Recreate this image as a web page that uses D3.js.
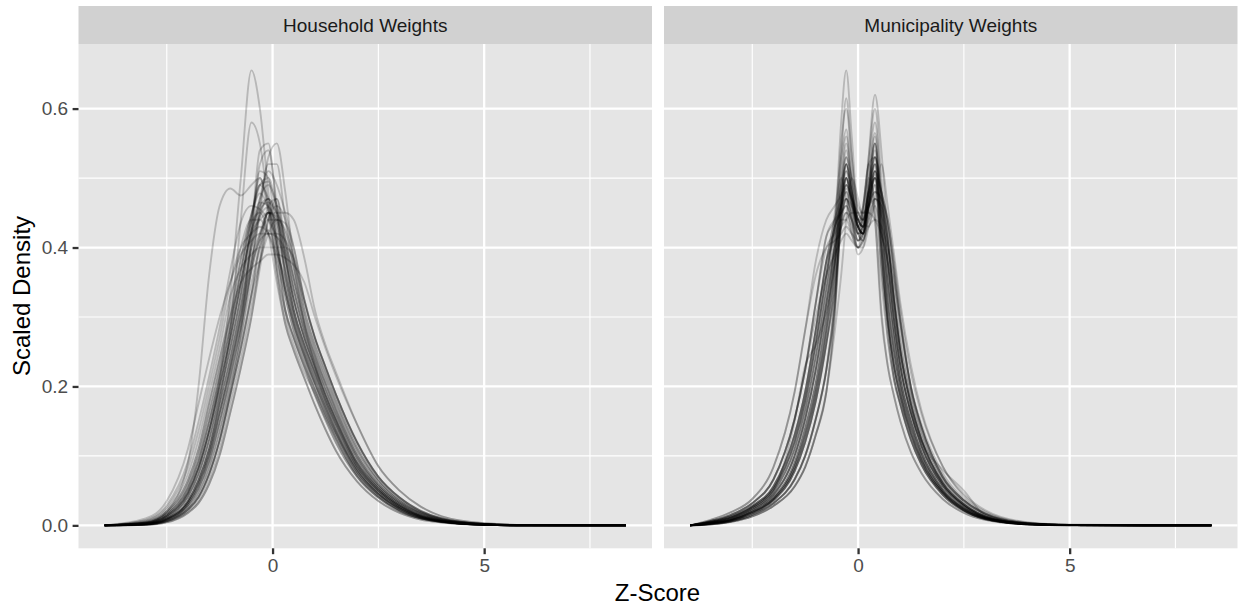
<!DOCTYPE html>
<html>
<head>
<meta charset="utf-8">
<script src="https://cdn.jsdelivr.net/npm/d3@7"></script>
<style>
  html, body { margin: 0; padding: 0; background: #ffffff; }
  svg { display: block; font-family: "Liberation Sans", Arial, Helvetica, sans-serif; }
</style>
</head>
<body>
<svg id="chart" width="1238" height="607"></svg>
<script>
// ---------------- DATA ----------------
const panelTitles = ["Household Weights", "Municipality Weights"];
const xTickValues = [0, 5];
const xTickLabels = ["0", "5"];
const yTickValues = [0, 0.2, 0.4, 0.6];
const yTickLabels = ["0.0", "0.2", "0.4", "0.6"];
const xTitle = "Z-Score";
const yTitle = "Scaled Density";

// z-score grid of the household density curves
const householdX = [-3.97, -3, -2.5, -2, -1.75, -1.5, -1.25, -1, -0.75, -0.5, -0.3, -0.1, 0.1, 0.3, 0.5, 0.75, 1, 1.25, 1.5, 2, 2.5, 3, 3.5, 4, 5, 6, 8.35];
const householdCurves = [
  [0, 0.002, 0.01, 0.035, 0.065, 0.11, 0.175, 0.24, 0.315, 0.40, 0.445, 0.458, 0.43, 0.37, 0.31, 0.26, 0.22, 0.18, 0.145, 0.085, 0.05, 0.027, 0.013, 0.006, 0.001, 0, 0],
  [0, 0.0032, 0.014, 0.047, 0.083, 0.136, 0.201, 0.27, 0.349, 0.424, 0.46, 0.47, 0.45, 0.41, 0.355, 0.29, 0.244, 0.204, 0.166, 0.101, 0.059, 0.033, 0.017, 0.0078, 0.0016, 0.0001, 0],
  [0, 0.0016, 0.008, 0.029, 0.053, 0.092, 0.149, 0.214, 0.285, 0.366, 0.415, 0.45, 0.435, 0.37, 0.31, 0.26, 0.22, 0.18, 0.145, 0.085, 0.05, 0.027, 0.013, 0.006, 0.001, 0, 0],
  [0, 0.0044, 0.018, 0.059, 0.101, 0.162, 0.227, 0.30, 0.383, 0.448, 0.478, 0.455, 0.40, 0.34, 0.29, 0.244, 0.204, 0.166, 0.132, 0.077, 0.045, 0.024, 0.0114, 0.0054, 0.0009, 0, 0],
  [0, 0.0012, 0.006, 0.023, 0.041, 0.074, 0.123, 0.188, 0.255, 0.332, 0.38, 0.42, 0.44, 0.435, 0.40, 0.325, 0.27, 0.228, 0.188, 0.119, 0.07, 0.04, 0.021, 0.01, 0.0022, 0.0003, 0],
  [0, 0.0026, 0.012, 0.041, 0.074, 0.123, 0.188, 0.255, 0.332, 0.44, 0.50, 0.45, 0.36, 0.29, 0.252, 0.212, 0.173, 0.138, 0.107, 0.063, 0.035, 0.018, 0.0085, 0.0042, 0.0007, 0, 0],
  [0, 0.008, 0.029, 0.092, 0.149, 0.214, 0.285, 0.366, 0.436, 0.46, 0.455, 0.44, 0.415, 0.385, 0.325, 0.27, 0.228, 0.188, 0.152, 0.09, 0.053, 0.029, 0.014, 0.0066, 0.0012, 0, 0],
  [0, 0.0009, 0.0044, 0.018, 0.032, 0.059, 0.101, 0.162, 0.227, 0.30, 0.37, 0.44, 0.47, 0.41, 0.355, 0.29, 0.244, 0.204, 0.166, 0.101, 0.059, 0.033, 0.017, 0.0078, 0.0016, 0.0001, 0],
  [0, 0.0032, 0.014, 0.047, 0.083, 0.136, 0.201, 0.27, 0.349, 0.42, 0.44, 0.45, 0.45, 0.45, 0.44, 0.385, 0.31, 0.26, 0.22, 0.145, 0.085, 0.05, 0.027, 0.013, 0.003, 0.0005, 0],
  [0, 0.0018, 0.009, 0.032, 0.059, 0.101, 0.162, 0.227, 0.30, 0.375, 0.41, 0.42, 0.415, 0.395, 0.34, 0.28, 0.236, 0.196, 0.159, 0.096, 0.056, 0.031, 0.015, 0.0072, 0.0014, 0.0001, 0],
  [0, 0.003, 0.013, 0.045, 0.082, 0.135, 0.21, 0.33, 0.50, 0.655, 0.60, 0.48, 0.37, 0.30, 0.26, 0.22, 0.19, 0.155, 0.125, 0.07, 0.04, 0.02, 0.01, 0.005, 0.001, 0, 0],
  [0, 0.002, 0.01, 0.035, 0.065, 0.11, 0.18, 0.28, 0.44, 0.58, 0.55, 0.46, 0.37, 0.31, 0.27, 0.23, 0.195, 0.16, 0.13, 0.075, 0.043, 0.022, 0.01, 0.005, 0.001, 0, 0],
  [0, 0.001, 0.006, 0.022, 0.04, 0.073, 0.122, 0.19, 0.27, 0.37, 0.45, 0.53, 0.55, 0.48, 0.38, 0.29, 0.23, 0.185, 0.15, 0.088, 0.05, 0.027, 0.013, 0.006, 0.001, 0, 0],
  [0, 0.003, 0.02, 0.09, 0.2, 0.36, 0.46, 0.485, 0.475, 0.49, 0.50, 0.46, 0.40, 0.34, 0.29, 0.245, 0.205, 0.17, 0.135, 0.08, 0.045, 0.024, 0.011, 0.005, 0.001, 0, 0],
  [0, 0.0014, 0.007, 0.026, 0.047, 0.083, 0.136, 0.201, 0.28, 0.42, 0.54, 0.55, 0.45, 0.355, 0.30, 0.252, 0.212, 0.173, 0.138, 0.081, 0.047, 0.025, 0.012, 0.0057, 0.001, 0, 0],
  [0, 0.0016, 0.008, 0.029, 0.053, 0.092, 0.149, 0.214, 0.285, 0.375, 0.46, 0.52, 0.52, 0.44, 0.37, 0.30, 0.252, 0.212, 0.173, 0.107, 0.063, 0.035, 0.018, 0.0085, 0.0018, 0.0002, 0],
  [0, 0.0038, 0.016, 0.053, 0.092, 0.149, 0.214, 0.285, 0.366, 0.445, 0.49, 0.495, 0.45, 0.385, 0.325, 0.27, 0.228, 0.188, 0.152, 0.09, 0.053, 0.029, 0.014, 0.0066, 0.0012, 0, 0],
  [0, 0.002, 0.01, 0.035, 0.065, 0.11, 0.175, 0.24, 0.315, 0.40, 0.45, 0.47, 0.40, 0.31, 0.27, 0.228, 0.188, 0.152, 0.119, 0.07, 0.04, 0.021, 0.01, 0.0048, 0.0008, 0, 0],
  [0, 0.005, 0.02, 0.065, 0.11, 0.175, 0.24, 0.315, 0.40, 0.44, 0.44, 0.42, 0.38, 0.33, 0.28, 0.236, 0.196, 0.159, 0.125, 0.073, 0.042, 0.022, 0.0105, 0.0051, 0.0008, 0, 0],
  [0, 0.001, 0.005, 0.02, 0.035, 0.065, 0.11, 0.175, 0.24, 0.315, 0.38, 0.44, 0.46, 0.44, 0.385, 0.31, 0.26, 0.22, 0.18, 0.112, 0.066, 0.037, 0.019, 0.009, 0.002, 0.0003, 0],
  [0, 0.0026, 0.012, 0.041, 0.074, 0.123, 0.188, 0.255, 0.332, 0.412, 0.47, 0.49, 0.46, 0.41, 0.355, 0.29, 0.244, 0.204, 0.166, 0.101, 0.059, 0.033, 0.017, 0.0078, 0.0016, 0.0001, 0],
  [0, 0.006, 0.023, 0.074, 0.123, 0.188, 0.255, 0.33, 0.37, 0.39, 0.40, 0.40, 0.40, 0.40, 0.385, 0.325, 0.27, 0.228, 0.188, 0.119, 0.07, 0.04, 0.021, 0.01, 0.0022, 0.0003, 0],
  [0, 0.007, 0.026, 0.083, 0.136, 0.201, 0.27, 0.349, 0.40, 0.42, 0.43, 0.42, 0.39, 0.355, 0.30, 0.252, 0.212, 0.173, 0.138, 0.081, 0.047, 0.025, 0.012, 0.0057, 0.001, 0, 0],
  [0, 0.0018, 0.009, 0.032, 0.059, 0.101, 0.162, 0.227, 0.30, 0.41, 0.51, 0.50, 0.41, 0.34, 0.29, 0.244, 0.204, 0.166, 0.132, 0.077, 0.045, 0.024, 0.0114, 0.0054, 0.0009, 0, 0],
  [0, 0.0009, 0.0044, 0.018, 0.032, 0.059, 0.101, 0.162, 0.227, 0.30, 0.38, 0.46, 0.47, 0.39, 0.31, 0.26, 0.22, 0.18, 0.145, 0.085, 0.05, 0.027, 0.013, 0.006, 0.001, 0, 0],
  [0, 0.0038, 0.016, 0.053, 0.092, 0.149, 0.214, 0.285, 0.366, 0.436, 0.45, 0.42, 0.35, 0.29, 0.252, 0.212, 0.173, 0.138, 0.107, 0.063, 0.035, 0.018, 0.0085, 0.0042, 0.0007, 0, 0],
  [0, 0.0018, 0.009, 0.032, 0.059, 0.101, 0.162, 0.227, 0.30, 0.383, 0.445, 0.47, 0.44, 0.385, 0.325, 0.27, 0.228, 0.188, 0.152, 0.09, 0.053, 0.029, 0.014, 0.0066, 0.0012, 0, 0],
  [0, 0.0016, 0.008, 0.029, 0.053, 0.092, 0.149, 0.214, 0.285, 0.366, 0.42, 0.45, 0.44, 0.40, 0.34, 0.28, 0.236, 0.196, 0.159, 0.096, 0.056, 0.031, 0.015, 0.0072, 0.0014, 0.0001, 0],
  [0, 0.0044, 0.018, 0.059, 0.101, 0.162, 0.227, 0.30, 0.383, 0.448, 0.49, 0.47, 0.42, 0.365, 0.31, 0.26, 0.22, 0.18, 0.145, 0.085, 0.05, 0.027, 0.013, 0.006, 0.001, 0, 0],
  [0, 0.01, 0.035, 0.11, 0.175, 0.24, 0.30, 0.35, 0.39, 0.41, 0.42, 0.42, 0.42, 0.41, 0.38, 0.32, 0.27, 0.228, 0.188, 0.12, 0.07, 0.04, 0.02, 0.01, 0.002, 0.0005, 0],
  [0, 0.0012, 0.006, 0.023, 0.041, 0.074, 0.123, 0.188, 0.255, 0.332, 0.41, 0.45, 0.41, 0.33, 0.28, 0.236, 0.196, 0.159, 0.125, 0.073, 0.042, 0.022, 0.0105, 0.0051, 0.0008, 0, 0],
  [0, 0.002, 0.01, 0.035, 0.065, 0.11, 0.175, 0.24, 0.315, 0.40, 0.47, 0.51, 0.49, 0.45, 0.40, 0.325, 0.27, 0.228, 0.188, 0.119, 0.07, 0.04, 0.021, 0.01, 0.0022, 0.0003, 0],
  [0, 0.005, 0.02, 0.065, 0.11, 0.175, 0.24, 0.30, 0.35, 0.37, 0.38, 0.39, 0.39, 0.385, 0.375, 0.35, 0.30, 0.255, 0.215, 0.145, 0.085, 0.05, 0.027, 0.013, 0.003, 0.0005, 0],
  [0, 0.0026, 0.012, 0.041, 0.074, 0.123, 0.188, 0.255, 0.332, 0.43, 0.52, 0.54, 0.46, 0.36, 0.30, 0.252, 0.212, 0.173, 0.138, 0.081, 0.047, 0.025, 0.012, 0.0057, 0.001, 0, 0],
  [0, 0.0032, 0.014, 0.047, 0.083, 0.136, 0.201, 0.27, 0.349, 0.424, 0.455, 0.465, 0.45, 0.42, 0.37, 0.30, 0.252, 0.212, 0.173, 0.107, 0.063, 0.035, 0.018, 0.0085, 0.0018, 0.0002, 0],
  [0, 0.0014, 0.007, 0.026, 0.047, 0.083, 0.136, 0.201, 0.27, 0.349, 0.40, 0.425, 0.39, 0.31, 0.27, 0.228, 0.188, 0.152, 0.119, 0.07, 0.04, 0.021, 0.01, 0.0048, 0.0008, 0, 0],
  [0, 0.0032, 0.014, 0.047, 0.083, 0.136, 0.201, 0.27, 0.349, 0.424, 0.465, 0.46, 0.41, 0.34, 0.29, 0.244, 0.204, 0.166, 0.132, 0.077, 0.045, 0.024, 0.0114, 0.0054, 0.0009, 0, 0],
  [0, 0.0018, 0.009, 0.032, 0.059, 0.101, 0.162, 0.227, 0.30, 0.383, 0.42, 0.44, 0.44, 0.425, 0.385, 0.31, 0.26, 0.22, 0.18, 0.112, 0.066, 0.037, 0.019, 0.009, 0.002, 0.0003, 0],
  [0, 0.0038, 0.016, 0.053, 0.092, 0.149, 0.214, 0.285, 0.366, 0.44, 0.49, 0.50, 0.46, 0.40, 0.34, 0.28, 0.236, 0.196, 0.159, 0.096, 0.056, 0.031, 0.015, 0.0072, 0.0014, 0.0001, 0],
  [0, 0.0012, 0.006, 0.023, 0.041, 0.074, 0.123, 0.188, 0.255, 0.332, 0.40, 0.45, 0.445, 0.385, 0.325, 0.27, 0.228, 0.188, 0.152, 0.09, 0.053, 0.029, 0.014, 0.0066, 0.0012, 0, 0]
];

// z-score grid of the municipality density curves
const municipalityX = [-3.97, -3.5, -3, -2.5, -2, -1.5, -1.25, -1, -0.75, -0.55, -0.4, -0.28, -0.15, 0, 0.12, 0.25, 0.4, 0.55, 0.7, 0.85, 1, 1.25, 1.5, 2, 2.5, 3, 4, 5, 8.35];
const municipalityCurves = [
  [0, 0.0027, 0.0075, 0.019, 0.038, 0.084, 0.13, 0.192, 0.281, 0.42, 0.58, 0.655, 0.56, 0.45, 0.44, 0.49, 0.55, 0.46, 0.38, 0.297, 0.23, 0.162, 0.114, 0.057, 0.028, 0.012, 0.0022, 0.0004, 0],
  [0, 0.003, 0.008, 0.02, 0.04, 0.09, 0.14, 0.205, 0.30, 0.38, 0.46, 0.50, 0.465, 0.43, 0.42, 0.53, 0.62, 0.54, 0.42, 0.32, 0.25, 0.174, 0.123, 0.061, 0.03, 0.013, 0.0024, 0.0004, 0],
  [0, 0.0024, 0.007, 0.0176, 0.036, 0.078, 0.12, 0.179, 0.262, 0.37, 0.53, 0.615, 0.53, 0.44, 0.43, 0.47, 0.52, 0.41, 0.323, 0.25, 0.198, 0.141, 0.099, 0.049, 0.024, 0.0104, 0.0019, 0.0003, 0],
  [0, 0.004, 0.0104, 0.024, 0.048, 0.11, 0.166, 0.243, 0.34, 0.416, 0.47, 0.52, 0.475, 0.43, 0.46, 0.53, 0.60, 0.50, 0.37, 0.28, 0.21, 0.15, 0.105, 0.052, 0.025, 0.011, 0.002, 0.0003, 0],
  [0, 0.0035, 0.009, 0.022, 0.044, 0.10, 0.153, 0.224, 0.32, 0.40, 0.51, 0.56, 0.50, 0.44, 0.43, 0.50, 0.565, 0.47, 0.35, 0.27, 0.21, 0.15, 0.105, 0.052, 0.025, 0.011, 0.002, 0.0003, 0],
  [0, 0.006, 0.0152, 0.032, 0.066, 0.153, 0.224, 0.32, 0.416, 0.44, 0.49, 0.52, 0.48, 0.43, 0.42, 0.47, 0.53, 0.48, 0.41, 0.323, 0.25, 0.174, 0.123, 0.061, 0.03, 0.013, 0.0024, 0.0004, 0],
  [0, 0.0018, 0.006, 0.0152, 0.032, 0.066, 0.10, 0.153, 0.224, 0.31, 0.44, 0.50, 0.465, 0.42, 0.41, 0.46, 0.51, 0.38, 0.27, 0.21, 0.174, 0.123, 0.087, 0.044, 0.021, 0.0092, 0.0016, 0.0002, 0],
  [0, 0.0027, 0.0075, 0.019, 0.038, 0.084, 0.13, 0.192, 0.281, 0.36, 0.44, 0.48, 0.46, 0.43, 0.44, 0.48, 0.50, 0.40, 0.29, 0.21, 0.174, 0.123, 0.087, 0.044, 0.021, 0.0092, 0.0016, 0.0002, 0],
  [0, 0.0075, 0.019, 0.038, 0.084, 0.192, 0.281, 0.38, 0.44, 0.46, 0.475, 0.49, 0.47, 0.44, 0.43, 0.47, 0.52, 0.46, 0.38, 0.297, 0.23, 0.162, 0.114, 0.057, 0.028, 0.012, 0.0022, 0.0004, 0],
  [0, 0.0035, 0.009, 0.022, 0.044, 0.10, 0.153, 0.224, 0.32, 0.40, 0.44, 0.47, 0.46, 0.44, 0.44, 0.46, 0.48, 0.47, 0.44, 0.37, 0.297, 0.198, 0.141, 0.07, 0.036, 0.017, 0.003, 0.0005, 0],
  [0, 0.004, 0.0104, 0.024, 0.048, 0.11, 0.166, 0.243, 0.34, 0.40, 0.43, 0.44, 0.45, 0.45, 0.45, 0.45, 0.44, 0.42, 0.38, 0.32, 0.25, 0.174, 0.123, 0.061, 0.03, 0.013, 0.0024, 0.0004, 0],
  [0, 0.0012, 0.005, 0.0128, 0.028, 0.056, 0.084, 0.13, 0.192, 0.30, 0.45, 0.53, 0.48, 0.42, 0.42, 0.45, 0.49, 0.40, 0.297, 0.23, 0.186, 0.132, 0.093, 0.047, 0.022, 0.0098, 0.0017, 0.0003, 0],
  [0, 0.0045, 0.0116, 0.026, 0.052, 0.12, 0.179, 0.262, 0.36, 0.43, 0.45, 0.46, 0.44, 0.41, 0.45, 0.52, 0.53, 0.40, 0.297, 0.23, 0.186, 0.132, 0.093, 0.047, 0.022, 0.0098, 0.0017, 0.0003, 0],
  [0, 0.006, 0.0152, 0.032, 0.066, 0.153, 0.224, 0.32, 0.40, 0.42, 0.44, 0.44, 0.42, 0.40, 0.41, 0.44, 0.47, 0.45, 0.40, 0.33, 0.26, 0.186, 0.132, 0.066, 0.033, 0.015, 0.0027, 0.0005, 0],
  [0, 0.003, 0.008, 0.02, 0.04, 0.09, 0.14, 0.205, 0.30, 0.38, 0.47, 0.51, 0.47, 0.43, 0.42, 0.48, 0.55, 0.44, 0.323, 0.25, 0.198, 0.141, 0.099, 0.049, 0.024, 0.0104, 0.0019, 0.0003, 0],
  [0, 0.005, 0.0128, 0.028, 0.056, 0.13, 0.192, 0.281, 0.38, 0.45, 0.53, 0.57, 0.50, 0.42, 0.41, 0.46, 0.50, 0.38, 0.297, 0.23, 0.186, 0.132, 0.093, 0.047, 0.022, 0.0098, 0.0017, 0.0003, 0],
  [0, 0.006, 0.0152, 0.032, 0.066, 0.153, 0.224, 0.30, 0.36, 0.39, 0.41, 0.42, 0.41, 0.40, 0.41, 0.43, 0.44, 0.43, 0.40, 0.35, 0.29, 0.198, 0.141, 0.07, 0.036, 0.017, 0.003, 0.0005, 0],
  [0, 0.0024, 0.007, 0.0176, 0.036, 0.078, 0.12, 0.179, 0.262, 0.34, 0.44, 0.50, 0.46, 0.42, 0.46, 0.52, 0.58, 0.48, 0.38, 0.297, 0.23, 0.162, 0.114, 0.057, 0.028, 0.012, 0.0022, 0.0004, 0],
  [0, 0.003, 0.008, 0.02, 0.04, 0.09, 0.14, 0.205, 0.30, 0.38, 0.45, 0.485, 0.46, 0.43, 0.42, 0.46, 0.505, 0.44, 0.35, 0.27, 0.21, 0.15, 0.105, 0.052, 0.025, 0.011, 0.002, 0.0003, 0],
  [0, 0.0012, 0.005, 0.0128, 0.028, 0.056, 0.084, 0.13, 0.192, 0.31, 0.47, 0.54, 0.49, 0.44, 0.46, 0.52, 0.44, 0.30, 0.23, 0.186, 0.15, 0.105, 0.075, 0.038, 0.018, 0.008, 0.0015, 0.0002, 0],
  [0, 0.0045, 0.0116, 0.026, 0.052, 0.12, 0.179, 0.262, 0.36, 0.43, 0.45, 0.47, 0.45, 0.41, 0.42, 0.46, 0.51, 0.44, 0.35, 0.28, 0.22, 0.16, 0.12, 0.08, 0.05, 0.015, 0.002, 0.0003, 0],
  [0, 0.003, 0.01, 0.025, 0.05, 0.15, 0.23, 0.26, 0.31, 0.38, 0.43, 0.45, 0.44, 0.41, 0.42, 0.46, 0.50, 0.43, 0.35, 0.27, 0.21, 0.15, 0.105, 0.052, 0.025, 0.011, 0.002, 0.0003, 0],
  [0, 0.0024, 0.007, 0.0176, 0.036, 0.078, 0.12, 0.179, 0.262, 0.35, 0.46, 0.50, 0.47, 0.43, 0.42, 0.44, 0.47, 0.46, 0.41, 0.34, 0.27, 0.186, 0.132, 0.066, 0.033, 0.015, 0.0027, 0.0005, 0],
  [0, 0.005, 0.0128, 0.028, 0.056, 0.13, 0.192, 0.281, 0.38, 0.43, 0.48, 0.52, 0.48, 0.43, 0.42, 0.48, 0.54, 0.44, 0.323, 0.25, 0.198, 0.141, 0.099, 0.049, 0.024, 0.0104, 0.0019, 0.0003, 0],
  [0, 0.0035, 0.009, 0.022, 0.044, 0.10, 0.153, 0.224, 0.32, 0.40, 0.46, 0.48, 0.44, 0.39, 0.40, 0.45, 0.49, 0.37, 0.29, 0.22, 0.174, 0.123, 0.087, 0.044, 0.021, 0.0092, 0.0016, 0.0002, 0],
  [0, 0.0018, 0.006, 0.0152, 0.032, 0.066, 0.10, 0.153, 0.224, 0.33, 0.46, 0.51, 0.48, 0.44, 0.43, 0.46, 0.50, 0.45, 0.38, 0.297, 0.23, 0.162, 0.114, 0.057, 0.028, 0.012, 0.0022, 0.0004, 0],
  [0, 0.0075, 0.019, 0.038, 0.084, 0.192, 0.281, 0.36, 0.40, 0.41, 0.42, 0.43, 0.42, 0.41, 0.43, 0.48, 0.52, 0.42, 0.323, 0.25, 0.198, 0.141, 0.099, 0.049, 0.024, 0.0104, 0.0019, 0.0003, 0],
  [0, 0.0027, 0.0075, 0.019, 0.038, 0.084, 0.13, 0.192, 0.281, 0.37, 0.49, 0.55, 0.49, 0.43, 0.42, 0.46, 0.51, 0.48, 0.43, 0.36, 0.29, 0.198, 0.141, 0.07, 0.036, 0.017, 0.003, 0.0005, 0],
  [0, 0.0045, 0.0116, 0.026, 0.052, 0.12, 0.179, 0.262, 0.36, 0.43, 0.46, 0.49, 0.47, 0.45, 0.44, 0.48, 0.53, 0.48, 0.41, 0.323, 0.25, 0.174, 0.123, 0.061, 0.03, 0.013, 0.0024, 0.0004, 0],
  [0, 0.006, 0.0152, 0.032, 0.066, 0.153, 0.224, 0.32, 0.416, 0.44, 0.45, 0.46, 0.44, 0.42, 0.43, 0.46, 0.48, 0.47, 0.43, 0.36, 0.29, 0.20, 0.145, 0.075, 0.038, 0.018, 0.0035, 0.0006, 0],
  [0, 0.004, 0.0104, 0.024, 0.048, 0.11, 0.166, 0.243, 0.34, 0.44, 0.50, 0.47, 0.42, 0.40, 0.45, 0.50, 0.46, 0.35, 0.27, 0.21, 0.174, 0.123, 0.087, 0.044, 0.021, 0.0092, 0.0016, 0.0002, 0],
  [0, 0.0012, 0.005, 0.0128, 0.028, 0.056, 0.084, 0.13, 0.192, 0.28, 0.36, 0.44, 0.50, 0.47, 0.44, 0.43, 0.47, 0.52, 0.46, 0.39, 0.32, 0.23, 0.165, 0.085, 0.045, 0.022, 0.0045, 0.001, 0],
  [0, 0.0035, 0.009, 0.022, 0.044, 0.10, 0.153, 0.224, 0.32, 0.40, 0.46, 0.47, 0.44, 0.40, 0.42, 0.48, 0.55, 0.40, 0.297, 0.23, 0.186, 0.132, 0.093, 0.047, 0.022, 0.0098, 0.0017, 0.0003, 0],
  [0, 0.0027, 0.0075, 0.019, 0.038, 0.084, 0.13, 0.192, 0.281, 0.38, 0.49, 0.53, 0.50, 0.46, 0.45, 0.46, 0.47, 0.46, 0.41, 0.323, 0.25, 0.174, 0.123, 0.061, 0.03, 0.013, 0.0024, 0.0004, 0],
  [0, 0.005, 0.0128, 0.028, 0.056, 0.13, 0.192, 0.281, 0.38, 0.44, 0.47, 0.50, 0.47, 0.44, 0.43, 0.47, 0.51, 0.48, 0.44, 0.38, 0.31, 0.22, 0.16, 0.085, 0.042, 0.02, 0.004, 0.0008, 0],
  [0, 0.0018, 0.006, 0.0152, 0.032, 0.066, 0.10, 0.153, 0.224, 0.32, 0.46, 0.52, 0.48, 0.43, 0.42, 0.49, 0.56, 0.42, 0.30, 0.23, 0.186, 0.132, 0.093, 0.047, 0.022, 0.0098, 0.0017, 0.0003, 0],
  [0, 0.0045, 0.0116, 0.026, 0.052, 0.12, 0.179, 0.262, 0.36, 0.43, 0.46, 0.49, 0.47, 0.44, 0.43, 0.46, 0.50, 0.48, 0.44, 0.37, 0.297, 0.198, 0.141, 0.07, 0.036, 0.017, 0.003, 0.0005, 0],
  [0, 0.0024, 0.007, 0.0176, 0.036, 0.078, 0.12, 0.179, 0.262, 0.34, 0.43, 0.47, 0.45, 0.42, 0.43, 0.48, 0.44, 0.31, 0.23, 0.186, 0.15, 0.105, 0.075, 0.038, 0.018, 0.008, 0.0015, 0.0002, 0],
  [0, 0.005, 0.0128, 0.028, 0.056, 0.13, 0.192, 0.281, 0.38, 0.42, 0.55, 0.60, 0.53, 0.45, 0.44, 0.48, 0.53, 0.47, 0.41, 0.323, 0.25, 0.174, 0.123, 0.061, 0.03, 0.013, 0.0024, 0.0004, 0],
  [0, 0.0018, 0.006, 0.0152, 0.032, 0.066, 0.10, 0.153, 0.224, 0.32, 0.43, 0.45, 0.43, 0.40, 0.40, 0.43, 0.46, 0.42, 0.38, 0.297, 0.23, 0.162, 0.114, 0.057, 0.028, 0.012, 0.0022, 0.0004, 0]
];

const xMinorTicks = [-2.5, 2.5, 7.5];
const yMinorTicks = [0.1, 0.3, 0.5];

// ---------------- LAYOUT ----------------
const svg = d3.select("#chart");
svg.append("rect").attr("width", 1238).attr("height", 607).attr("fill", "#ffffff");

const panelLefts = [78.5, 664];
const panelW = 573.5;
const stripTop = 6, stripBottom = 44;
const panelTop = 44, panelBottom = 548.3;

const dataXMin = -3.97, dataXMax = 8.35, dataYMax = 0.66;
const xPad = (dataXMax - dataXMin) * 0.05;
const yPad = dataYMax * 0.05;

const y = d3.scaleLinear().domain([-yPad, dataYMax + yPad]).range([panelBottom, panelTop]);

const panels = [
  { title: panelTitles[0], xs: householdX, curves: householdCurves },
  { title: panelTitles[1], xs: municipalityX, curves: municipalityCurves }
];

panels.forEach((p, i) => {
  const left = panelLefts[i];
  const x = d3.scaleLinear().domain([dataXMin - xPad, dataXMax + xPad]).range([left, left + panelW]);
  const g = svg.append("g");

  // strip
  g.append("rect").attr("x", left).attr("y", stripTop).attr("width", panelW)
    .attr("height", stripBottom - stripTop).attr("fill", "#d1d1d1");
  g.append("text").attr("x", left + panelW / 2).attr("y", 31.5)
    .attr("text-anchor", "middle").attr("font-size", 19).attr("fill", "#1a1a1a")
    .text(p.title);

  // panel background
  g.append("rect").attr("x", left).attr("y", panelTop).attr("width", panelW)
    .attr("height", panelBottom - panelTop).attr("fill", "#e5e5e5");

  // minor grid
  g.selectAll(".vminor").data(xMinorTicks).enter().append("line")
    .attr("x1", d => x(d)).attr("x2", d => x(d)).attr("y1", panelTop).attr("y2", panelBottom)
    .attr("stroke", "#ffffff").attr("stroke-width", 1.15);
  g.selectAll(".hminor").data(yMinorTicks).enter().append("line")
    .attr("x1", left).attr("x2", left + panelW).attr("y1", d => y(d)).attr("y2", d => y(d))
    .attr("stroke", "#ffffff").attr("stroke-width", 1.15);
  // major grid
  g.selectAll(".vmajor").data(xTickValues).enter().append("line")
    .attr("x1", d => x(d)).attr("x2", d => x(d)).attr("y1", panelTop).attr("y2", panelBottom)
    .attr("stroke", "#ffffff").attr("stroke-width", 2.3);
  g.selectAll(".hmajor").data(yTickValues).enter().append("line")
    .attr("x1", left).attr("x2", left + panelW).attr("y1", d => y(d)).attr("y2", d => y(d))
    .attr("stroke", "#ffffff").attr("stroke-width", 2.3);

  // density lines
  const line = d3.line().x(d => x(d[0])).y(d => y(d[1])).curve(d3.curveMonotoneX);
  p.curves.forEach(c => {
    const pts = p.xs.map((xv, k) => [xv, c[k]]);
    g.append("path").attr("d", line(pts)).attr("fill", "none")
      .attr("stroke", "#000000").attr("stroke-opacity", 0.2).attr("stroke-width", 1.9)
      .attr("stroke-linejoin", "round");
  });

  // x axis ticks + labels
  const xAxis = d3.axisBottom(x).tickValues(xTickValues)
    .tickFormat((d, k) => xTickLabels[k]).tickSize(5.9).tickPadding(4.2);
  const xa = svg.append("g").attr("transform", `translate(0,${panelBottom})`).call(xAxis);
  xa.select(".domain").remove();
  xa.selectAll(".tick line").attr("stroke", "#333333").attr("stroke-width", 2.3);
  xa.selectAll(".tick text").attr("fill", "#4d4d4d").attr("font-size", 19)
    .attr("font-family", "Liberation Sans, Arial, sans-serif");

  if (i === 0) {
    const yAxis = d3.axisLeft(y).tickValues(yTickValues)
      .tickFormat((d, k) => yTickLabels[k]).tickSize(5.9).tickPadding(4.5);
    const ya = svg.append("g").attr("transform", `translate(${left},0)`).call(yAxis);
    ya.select(".domain").remove();
    ya.selectAll(".tick line").attr("stroke", "#333333").attr("stroke-width", 2.3);
    ya.selectAll(".tick text").attr("fill", "#4d4d4d").attr("font-size", 19)
      .attr("font-family", "Liberation Sans, Arial, sans-serif");
  }
});

// axis titles
svg.append("text").attr("x", 657.5).attr("y", 601).attr("text-anchor", "middle")
  .attr("font-size", 24).attr("fill", "#000000").text(xTitle);
svg.append("text").attr("transform", "translate(30,296) rotate(-90)")
  .attr("text-anchor", "middle").attr("font-size", 24).attr("fill", "#000000").text(yTitle);
</script>
</body>
</html>
